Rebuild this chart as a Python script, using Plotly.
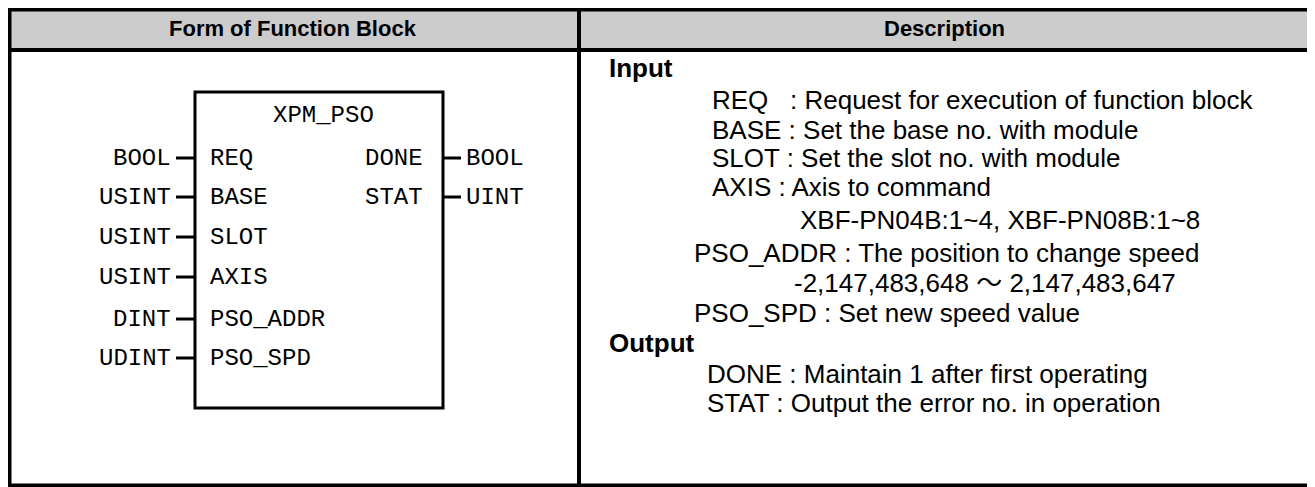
import plotly.graph_objects as go

# ---------------- data ----------------
headers = ["Form of Function Block", "Description"]
block_name = "XPM_PSO"
in_types = ["BOOL", "USINT", "USINT", "USINT", "DINT", "UDINT"]
in_names = ["REQ", "BASE", "SLOT", "AXIS", "PSO_ADDR", "PSO_SPD"]
out_names = ["DONE", "STAT"]
out_types = ["BOOL", "UINT"]
sections = ["Input", "Output"]
input_desc = [
    "REQ   : Request for execution of function block",
    "BASE : Set the base no. with module",
    "SLOT : Set the slot no. with module",
    "AXIS : Axis to command",
    "XBF-PN04B:1~4, XBF-PN08B:1~8",
    "PSO_ADDR : The position to change speed",
    "-2,147,483,648 ～ 2,147,483,647",
    "PSO_SPD : Set new speed value",
]
output_desc = [
    "DONE : Maintain 1 after first operating",
    "STAT : Output the error no. in operation",
]

# ---------------- geometry (page pixel coordinates) ----------------
W, H = 1315, 487
OFF = 8  # browser body margin
L, R, T, B = 9.5, 1309, 9.5, 485.5
HDR = 50
DIV = 579
BX0, BX1, BY0, BY1 = 195, 443, 92, 408
pin_y = [158, 197, 237, 277, 319, 358]
out_y = [158, 197]
in_x = [710, 710, 710, 710, 798, 692, 792, 692]
in_y = [100, 130, 158, 187, 220, 253, 283, 313]
sec_y = [68, 343]
out_dx = [705, 705]
out_dy = [374, 403]

LINE = "black"
MONO = "Liberation Mono, DejaVu Sans Mono, monospace"
SANS = "Liberation Sans, Arial, Noto Sans CJK KR"
FS_BODY = 26
FS_HDR = 22
FS_MONO = 24

fig = go.Figure()
shapes = []
ann = []

shapes.append(dict(type="rect", x0=OFF, x1=R, y0=OFF, y1=HDR, fillcolor="#cccccc",
                   line=dict(width=0), layer="below"))
shapes.append(dict(type="line", x0=OFF, x1=R + 2, y0=T, y1=T, line=dict(color=LINE, width=4)))
shapes.append(dict(type="line", x0=OFF, x1=R + 2, y0=B, y1=B, line=dict(color=LINE, width=4)))
shapes.append(dict(type="line", x0=L, x1=L, y0=OFF, y1=H, line=dict(color=LINE, width=4)))
shapes.append(dict(type="line", x0=R, x1=R, y0=OFF, y1=H, line=dict(color=LINE, width=4)))
shapes.append(dict(type="line", x0=OFF, x1=R, y0=HDR, y1=HDR, line=dict(color=LINE, width=4)))
shapes.append(dict(type="line", x0=DIV, x1=DIV, y0=OFF, y1=B, line=dict(color=LINE, width=4)))

for txt, cx in zip(headers, [(7 + DIV) / 2, (DIV + R) / 2]):
    ann.append(dict(x=cx, y=(7 + 48) / 2 + 1, text=f"<b>{txt}</b>", showarrow=False,
                    xanchor="center", yanchor="middle",
                    font=dict(family=SANS, size=FS_HDR, color="black")))

shapes.append(dict(type="rect", x0=BX0, x1=BX1, y0=BY0, y1=BY1, line=dict(color=LINE, width=3)))
ann.append(dict(x=(BX0 + BX1) / 2 + 4, y=115, text=block_name, showarrow=False,
                xanchor="center", yanchor="middle",
                font=dict(family=MONO, size=FS_MONO, color="black")))

for t, n, y in zip(in_types, in_names, pin_y):
    shapes.append(dict(type="line", x0=176, x1=BX0, y0=y, y1=y, line=dict(color=LINE, width=3)))
    ann.append(dict(x=173, y=y, text=t, showarrow=False, xanchor="right", yanchor="middle",
                    font=dict(family=MONO, size=FS_MONO, color="black")))
    ann.append(dict(x=208, y=y, text=n, showarrow=False, xanchor="left", yanchor="middle",
                    font=dict(family=MONO, size=FS_MONO, color="black")))

for n, t, y in zip(out_names, out_types, out_y):
    shapes.append(dict(type="line", x0=BX1, x1=461, y0=y, y1=y, line=dict(color=LINE, width=3)))
    ann.append(dict(x=425, y=y, text=n, showarrow=False, xanchor="right", yanchor="middle",
                    font=dict(family=MONO, size=FS_MONO, color="black")))
    ann.append(dict(x=464, y=y, text=t, showarrow=False, xanchor="left", yanchor="middle",
                    font=dict(family=MONO, size=FS_MONO, color="black")))

for s, y in zip(sections, sec_y):
    ann.append(dict(x=607, y=y, text=f"<b>{s}</b>", showarrow=False, xanchor="left",
                    yanchor="middle", font=dict(family=SANS, size=FS_BODY, color="black")))
for txt, x, y in zip(input_desc, in_x, in_y):
    ann.append(dict(x=x, y=y, text=txt, showarrow=False, xanchor="left", yanchor="middle",
                    font=dict(family=SANS, size=FS_BODY, color="black")))
for txt, x, y in zip(output_desc, out_dx, out_dy):
    ann.append(dict(x=x, y=y, text=txt, showarrow=False, xanchor="left", yanchor="middle",
                    font=dict(family=SANS, size=FS_BODY, color="black")))

fig.update_layout(
    width=W - OFF, height=H - OFF, margin=dict(l=0, r=0, t=0, b=0),
    paper_bgcolor="white", plot_bgcolor="white",
    xaxis=dict(range=[OFF, W], visible=False, fixedrange=True),
    yaxis=dict(range=[H, OFF], visible=False, fixedrange=True),
    shapes=shapes, annotations=ann, showlegend=False,
)
fig.write_html("out.html")
